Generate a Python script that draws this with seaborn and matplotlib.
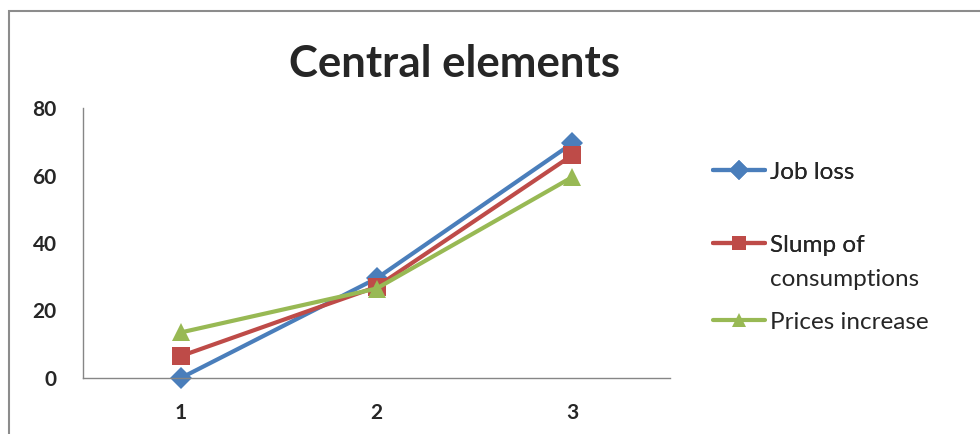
import matplotlib
matplotlib.use("Agg")
import matplotlib.pyplot as plt
import seaborn as sns
import pandas as pd
from matplotlib.patches import Rectangle

categories = [1, 2, 3]
job_loss = [0, 29.5, 69.5]
slump = [6.5, 27, 66]
prices = [13.5, 26.5, 59.5]
series_names = ["Job loss", "Slump of consumptions", "Prices increase"]
title = "Central elements"

rows = []
for name, vals in zip(series_names, [job_loss, slump, prices]):
    for c, v in zip(categories, vals):
        rows.append({"x": c, "y": v, "series": name})
df = pd.DataFrame(rows)

sns.set_style("white")
plt.rcParams["font.family"] = ["Lato", "DejaVu Sans"]

fig = plt.figure(figsize=(9.8, 4.34), dpi=100)
ax = fig.add_axes([83/980, 1-378/434, 587/980, 270/434])

palette = {"Job loss": "#4a7ebb", "Slump of consumptions": "#be4b48", "Prices increase": "#98b954"}
markers = {"Job loss": "D", "Slump of consumptions": "s", "Prices increase": "^"}
sizes_m = {"Job loss": 11, "Slump of consumptions": 13, "Prices increase": 13}

sns.lineplot(data=df, x="x", y="y", hue="series", style="series", markers=markers,
             dashes=False, palette=palette, linewidth=3, markersize=11,
             markeredgewidth=0, ax=ax, legend=True)
for line, name in zip(ax.get_lines(), series_names):
    line.set_markersize(sizes_m[name])
    line.set_clip_on(False)

ax.set_xlim(0.5, 3.5)
ax.set_ylim(0, 80)
ax.set_xticks(categories)
ax.set_xticklabels([str(c) for c in categories], fontsize=15, fontweight="bold")
ax.set_xticks([0.5, 1.5, 2.5, 3.5], minor=True)
ax.set_yticks([0, 20, 40, 60, 80])
ax.set_yticklabels(["0", "20", "40", "60", "80"], fontsize=15, fontweight="bold")
ax.tick_params(axis="x", which="major", length=0, pad=18)
ax.tick_params(axis="x", which="minor", length=5, color="#868686", direction="out", width=1)
ax.tick_params(axis="y", which="major", length=5, color="#868686", direction="out", width=1, pad=14)
ax.set_xlabel("")
ax.set_ylabel("")
for s in ["top", "right"]:
    ax.spines[s].set_visible(False)
for s in ["left", "bottom"]:
    ax.spines[s].set_color("#868686")
    ax.spines[s].set_linewidth(1)

fig.text(454/980, 1-64/434, title, ha="center", va="center", fontsize=31.5, fontweight="bold")

handles, labels = ax.get_legend_handles_labels()
ax.get_legend().remove()
leg_labels = ["Job loss", "Slump of", "Prices increase"]
leg_y = [172, 245, 322]
leg_fs = 17.5
for i, (h, lab, yy) in enumerate(zip(handles, leg_labels, leg_y)):
    lg = fig.legend([h], [lab], loc="center left", bbox_to_anchor=(713/980, 1-yy/434),
                    frameon=False, fontsize=leg_fs, handlelength=2.15, handletextpad=0.2,
                    borderpad=0, borderaxespad=0, markerscale=0.9)
    if i < 2:
        fig.add_artist(lg)
fig.text(770/980, 1-280/434, "consumptions", ha="left", va="center", fontsize=leg_fs)

fig.patches.append(Rectangle((9/980, -0.1), 1.1, 1-11/434 + 0.1, transform=fig.transFigure,
                             fill=False, edgecolor="#8c8c8c", linewidth=1.5))

fig.savefig("out.png", dpi=100)
